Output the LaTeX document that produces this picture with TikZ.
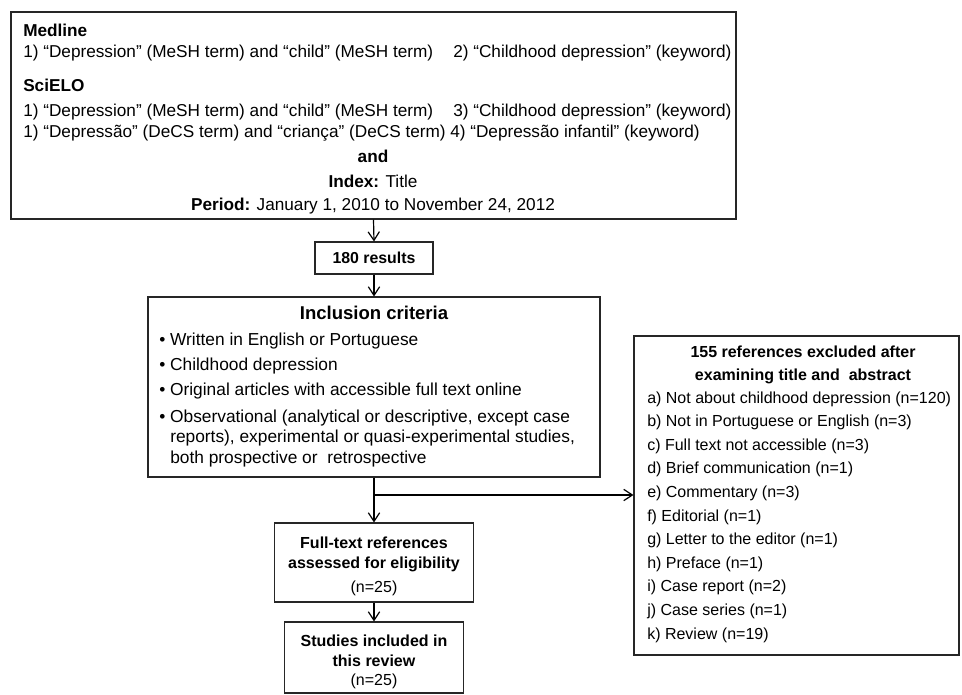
\documentclass[tikz,border=0pt]{standalone}
\usepackage{fontspec}
\setmainfont{Liberation Sans}
\usetikzlibrary{arrows.meta}
\newcommand\pxu{0.75pt}
\begin{document}
\begin{tikzpicture}[x=0.75pt,y=-0.75pt,
  box/.style={draw=black!85, line width=0.8pt, inner sep=0pt},
  arr/.style={draw=black, line width=0.9pt, -{Straight Barb[length=6.5pt,width=8.5pt]}},
  ftop/.style={inner sep=0pt, font=\fontsize{12.9pt}{15pt}\selectfont},
  finc/.style={inner sep=0pt, font=\fontsize{13pt}{15pt}\selectfont},
  fsm/.style={inner sep=0pt, font=\fontsize{12pt}{14pt}\selectfont},
  tl/.style={anchor=base west},
  tc/.style={anchor=base}]
\useasboundingbox (0,0) rectangle (962,694);

% boxes
\node[box, minimum width=725*\pxu, minimum height=207*\pxu] (top) at (373.5,115.5) {};
\node[box, minimum width=118*\pxu, minimum height=32*\pxu] (res) at (374,258) {};
\node[box, minimum width=452*\pxu, minimum height=180*\pxu] (incl) at (374,387) {};
\node[box, minimum width=199*\pxu, minimum height=79*\pxu] (full) at (374,562.5) {};
\node[box, minimum width=179*\pxu, minimum height=71*\pxu] (stud) at (374,657.5) {};
\node[box, minimum width=325*\pxu, minimum height=319*\pxu] (excl) at (796.5,495.5) {};

% top box text
\node[ftop,tl] (t1) at (23,36.5) {\textbf{Medline}};
\node[ftop,tl] (t2) at (23,57.5) {1) “Depression” (MeSH term) and “child” (MeSH term)};
\node[ftop,tl] (t3) at (453,57.5) {2) “Childhood depression” (keyword)};
\node[ftop,tl] (t4) at (23,91.5) {\textbf{SciELO}};
\node[ftop,tl] (t5) at (23,116.5) {1) “Depression” (MeSH term) and “child” (MeSH term)};
\node[ftop,tl] (t6) at (453,116.5) {3) “Childhood depression” (keyword)};
\node[ftop,tl] (t7) at (23,137) {1) “Depressão” (DeCS term) and “criança” (DeCS term)};
\node[ftop,tl] (t8) at (450,137) {4) “Depressão infantil” (keyword)};
\node[ftop,tc] (t9) at (373,162.5) {\textbf{and}};
\node[ftop,tc] (t10) at (373,187.5) {\textbf{Index:} Title};
\node[ftop,tc] (t11) at (373,210.5) {\textbf{Period:} January 1, 2010 to November 24, 2012};

% 180 results
\node[inner sep=0pt, font=\fontsize{11.9pt}{14pt}\selectfont\bfseries, tc] (r1) at (374,263.5) {180 results};

% inclusion criteria
\node[inner sep=0pt, font=\fontsize{13.9pt}{16pt}\selectfont\bfseries, tc] (i0) at (374,319) {Inclusion criteria};
\node[finc,tl] (i1) at (159,345.5) {• Written in English or Portuguese};
\node[finc,tl] (i2) at (159,370.5) {• Childhood depression};
\node[finc,tl] (i3) at (159,395.5) {• Original articles with accessible full text online};
\node[finc,tl] (i4) at (159,422.5) {• Observational (analytical or descriptive, except case};
\node[finc,tl] (i5) at (170,442.5) {reports), experimental or quasi-experimental studies,};
\node[finc,tl] (i6) at (170,463.5) {both prospective or\ \ retrospective};

% full text box
\node[fsm,tc] (f1) at (374,548) {\textbf{Full-text references}};
\node[fsm,tc] (f2) at (374,568) {\textbf{assessed for eligibility}};
\node[fsm,tc] (f3) at (374,592) {(n=25)};

% studies box
\node[fsm,tc] (s1) at (374,646) {\textbf{Studies included in}};
\node[fsm,tc] (s2) at (374,666) {\textbf{this review}};
\node[fsm,tc] (s3) at (374,685) {(n=25)};

% excluded box
\node[fsm,tc] (e0) at (803,357) {\textbf{155 references excluded after}};
\node[fsm,tc] (e00) at (803,380.5) {\textbf{examining title and\ \ abstract}};
\foreach \t [count=\i] in {a) Not about childhood depression (n=120),
  b) Not in Portuguese or English (n=3),
  c) Full text not accessible (n=3),
  d) Brief communication (n=1),
  e) Commentary (n=3),
  f) Editorial (n=1),
  g) Letter to the editor (n=1),
  h) Preface (n=1),
  i) Case report (n=2),
  j) Case series (n=1),
  k) Review (n=19)}
  \node[fsm,tl] (ex\i) at (647,{403+(\i-1)*23.6}) {\t};

% connectors
\coordinate (br) at (374,495);
\draw[arr] (top.south) -- (res.north);
\draw[arr] (res.south) -- (incl.north);
\draw[arr] (incl.south) -- (full.north);
\draw[arr] (full.south) -- (stud.north);
\draw[arr] (br) -- (br -| excl.west);
\end{tikzpicture}
\end{document}
